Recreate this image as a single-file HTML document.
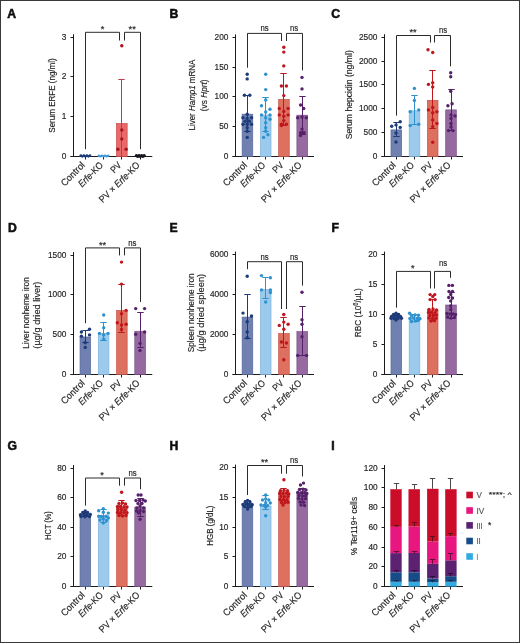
<!DOCTYPE html>
<html><head><meta charset="utf-8"><style>
html,body{margin:0;padding:0;background:#fff;}
body{width:520px;height:643px;overflow:hidden;}
svg{display:block;font-family:"Liberation Sans", sans-serif;}
text{stroke:#222;stroke-width:0.16px;}
</style></head><body>
<svg width="520" height="643" viewBox="0 0 520 643">
<rect x="0" y="0" width="520" height="643" fill="#fff"/>
<defs><filter id="sf" x="0" y="0" width="100%" height="100%" filterUnits="userSpaceOnUse"><feGaussianBlur stdDeviation="0.3"/></filter></defs>
<rect x="0.5" y="0.5" width="519" height="642" fill="none" stroke="#3a3a3a" stroke-width="1"/>
<g filter="url(#sf)">
<text x="7.2" y="17.5" font-size="12.2" font-weight="bold" fill="#111" style="stroke:#111;stroke-width:0.55px">A</text>
<text x="169.4" y="17.6" font-size="12.2" font-weight="bold" fill="#111" style="stroke:#111;stroke-width:0.55px">B</text>
<text x="331.2" y="17.9" font-size="12.2" font-weight="bold" fill="#111" style="stroke:#111;stroke-width:0.55px">C</text>
<text x="8" y="231.9" font-size="12.2" font-weight="bold" fill="#111" style="stroke:#111;stroke-width:0.55px">D</text>
<text x="169.6" y="231.9" font-size="12.2" font-weight="bold" fill="#111" style="stroke:#111;stroke-width:0.55px">E</text>
<text x="331.6" y="232" font-size="12.2" font-weight="bold" fill="#111" style="stroke:#111;stroke-width:0.55px">F</text>
<text x="7.5" y="450" font-size="12.2" font-weight="bold" fill="#111" style="stroke:#111;stroke-width:0.55px">G</text>
<text x="169.4" y="450" font-size="12.2" font-weight="bold" fill="#111" style="stroke:#111;stroke-width:0.55px">H</text>
<text x="331.2" y="450" font-size="12.2" font-weight="bold" fill="#111" style="stroke:#111;stroke-width:0.55px">I</text>
<line x1="73.5" y1="156.5" x2="73.5" y2="34.2" stroke="#1e1e1e" stroke-width="1.0"/>
<line x1="70.5" y1="156.5" x2="152.3" y2="156.5" stroke="#1e1e1e" stroke-width="1.0"/>
<line x1="70.5" y1="156.5" x2="73.5" y2="156.5" stroke="#1e1e1e" stroke-width="1.0"/>
<text x="66.4" y="159.4" font-size="8.3" text-anchor="end" fill="#1e1e1e">0</text>
<line x1="70.5" y1="116.5" x2="73.5" y2="116.5" stroke="#1e1e1e" stroke-width="1.0"/>
<text x="66.4" y="119.4" font-size="8.3" text-anchor="end" fill="#1e1e1e">1</text>
<line x1="70.5" y1="76.5" x2="73.5" y2="76.5" stroke="#1e1e1e" stroke-width="1.0"/>
<text x="66.4" y="79.4" font-size="8.3" text-anchor="end" fill="#1e1e1e">2</text>
<line x1="70.5" y1="37.5" x2="73.5" y2="37.5" stroke="#1e1e1e" stroke-width="1.0"/>
<text x="66.4" y="40.4" font-size="8.3" text-anchor="end" fill="#1e1e1e">3</text>
<line x1="85.5" y1="156.5" x2="85.5" y2="159.5" stroke="#1e1e1e" stroke-width="1.0"/>
<line x1="103.5" y1="156.5" x2="103.5" y2="159.5" stroke="#1e1e1e" stroke-width="1.0"/>
<line x1="121.5" y1="156.5" x2="121.5" y2="159.5" stroke="#1e1e1e" stroke-width="1.0"/>
<line x1="140.5" y1="156.5" x2="140.5" y2="159.5" stroke="#1e1e1e" stroke-width="1.0"/>
<text transform="translate(55.3,95.5) rotate(-90)" font-size="9.2" text-anchor="middle" fill="#1e1e1e" textLength="74.46" lengthAdjust="spacingAndGlyphs">Serum ERFE (ng/ml)</text>
<rect x="116.55" y="123.6" width="10.6" height="32.9" fill="#e96a6a" stroke="#c84848" stroke-width="0.7"/>
<line x1="121.5" y1="156.5" x2="121.5" y2="79.5" stroke="#b8404c" stroke-width="1.0"/>
<line x1="118.3" y1="79.5" x2="124.7" y2="79.5" stroke="#b8404c" stroke-width="1.0"/>
<circle cx="80.8" cy="155.7" r="1.35" fill="#1d3a78"/>
<circle cx="82.33" cy="156.3" r="1.35" fill="#1d3a78"/>
<circle cx="83.87" cy="155.7" r="1.35" fill="#1d3a78"/>
<circle cx="85.4" cy="156.3" r="1.35" fill="#1d3a78"/>
<circle cx="86.93" cy="155.7" r="1.35" fill="#1d3a78"/>
<circle cx="88.47" cy="156.3" r="1.35" fill="#1d3a78"/>
<circle cx="90" cy="155.7" r="1.35" fill="#1d3a78"/>
<circle cx="98.8" cy="155.7" r="1.3" fill="#4a9ad8"/>
<circle cx="100.37" cy="156.3" r="1.3" fill="#4a9ad8"/>
<circle cx="101.93" cy="155.7" r="1.3" fill="#4a9ad8"/>
<circle cx="103.5" cy="156.3" r="1.3" fill="#4a9ad8"/>
<circle cx="105.07" cy="155.7" r="1.3" fill="#4a9ad8"/>
<circle cx="106.63" cy="156.3" r="1.3" fill="#4a9ad8"/>
<circle cx="108.2" cy="155.7" r="1.3" fill="#4a9ad8"/>
<circle cx="136.4" cy="155.7" r="1.65" fill="#15151f"/>
<circle cx="137.7" cy="156.3" r="1.65" fill="#15151f"/>
<circle cx="139" cy="155.7" r="1.65" fill="#15151f"/>
<circle cx="140.3" cy="156.3" r="1.65" fill="#15151f"/>
<circle cx="141.6" cy="155.7" r="1.65" fill="#15151f"/>
<circle cx="142.9" cy="156.3" r="1.65" fill="#15151f"/>
<circle cx="144.2" cy="155.7" r="1.65" fill="#15151f"/>
<circle cx="121.8" cy="45.7" r="1.7" fill="#a8141c"/>
<circle cx="121.8" cy="130" r="1.7" fill="#a8141c"/>
<circle cx="121.8" cy="138.9" r="1.7" fill="#a8141c"/>
<circle cx="117.9" cy="149.2" r="1.7" fill="#a8141c"/>
<circle cx="126.1" cy="149.2" r="1.7" fill="#a8141c"/>
<polyline points="85.5,149.2 85.5,32.3 119.5,32.3 119.5,40.5" fill="none" stroke="#2a2a2a" stroke-width="1.0"/>
<text x="102.5" y="32.2" font-size="9.2" text-anchor="middle" fill="#1e1e1e">*</text>
<polyline points="124.5,40.5 124.5,32.3 140.5,32.3 140.5,149.2" fill="none" stroke="#2a2a2a" stroke-width="1.0"/>
<text x="132.2" y="32.2" font-size="9.2" text-anchor="middle" fill="#1e1e1e">**</text>
<text transform="translate(85.55,165.8) rotate(-45)" font-size="9.6" text-anchor="end" fill="#1e1e1e" textLength="29.5" lengthAdjust="spacingAndGlyphs">Control</text>
<text transform="translate(103.8,165.8) rotate(-45)" font-size="9.6" text-anchor="end" fill="#1e1e1e" textLength="31" lengthAdjust="spacingAndGlyphs"><tspan font-style="italic">Erfe</tspan>-KO</text>
<text transform="translate(122.05,165.8) rotate(-45)" font-size="9.6" text-anchor="end" fill="#1e1e1e" textLength="11.2" lengthAdjust="spacingAndGlyphs">PV</text>
<text transform="translate(140.3,165.8) rotate(-45)" font-size="9.6" text-anchor="end" fill="#1e1e1e" textLength="53" lengthAdjust="spacingAndGlyphs">PV × <tspan font-style="italic">Erfe</tspan>-KO</text>
<line x1="235.5" y1="156.5" x2="235.5" y2="34.4" stroke="#1e1e1e" stroke-width="1.0"/>
<line x1="232.5" y1="156.5" x2="314" y2="156.5" stroke="#1e1e1e" stroke-width="1.0"/>
<line x1="232.5" y1="156.5" x2="235.5" y2="156.5" stroke="#1e1e1e" stroke-width="1.0"/>
<text x="228.4" y="159.4" font-size="8.3" text-anchor="end" fill="#1e1e1e">0</text>
<line x1="232.5" y1="126.5" x2="235.5" y2="126.5" stroke="#1e1e1e" stroke-width="1.0"/>
<text x="228.4" y="129.4" font-size="8.3" text-anchor="end" fill="#1e1e1e">50</text>
<line x1="232.5" y1="96.5" x2="235.5" y2="96.5" stroke="#1e1e1e" stroke-width="1.0"/>
<text x="228.4" y="99.4" font-size="8.3" text-anchor="end" fill="#1e1e1e">100</text>
<line x1="232.5" y1="67.5" x2="235.5" y2="67.5" stroke="#1e1e1e" stroke-width="1.0"/>
<text x="228.4" y="70.4" font-size="8.3" text-anchor="end" fill="#1e1e1e">150</text>
<line x1="232.5" y1="37.5" x2="235.5" y2="37.5" stroke="#1e1e1e" stroke-width="1.0"/>
<text x="228.4" y="40.4" font-size="8.3" text-anchor="end" fill="#1e1e1e">200</text>
<line x1="247.5" y1="156.5" x2="247.5" y2="159.5" stroke="#1e1e1e" stroke-width="1.0"/>
<line x1="265.5" y1="156.5" x2="265.5" y2="159.5" stroke="#1e1e1e" stroke-width="1.0"/>
<line x1="283.5" y1="156.5" x2="283.5" y2="159.5" stroke="#1e1e1e" stroke-width="1.0"/>
<line x1="302.5" y1="156.5" x2="302.5" y2="159.5" stroke="#1e1e1e" stroke-width="1.0"/>
<text transform="translate(195.1,95.1) rotate(-90)" font-size="9.2" text-anchor="middle" fill="#1e1e1e" textLength="70.84" lengthAdjust="spacingAndGlyphs">Liver <tspan font-style="italic">Hamp1</tspan> mRNA</text>
<text transform="translate(207.2,95.3) rotate(-90)" font-size="9.2" text-anchor="middle" fill="#1e1e1e" textLength="31.67" lengthAdjust="spacingAndGlyphs">(vs <tspan font-style="italic">Hprt</tspan>)</text>
<rect x="242.15" y="114.2" width="10.6" height="42.3" fill="#6f81b1" stroke="#56689c" stroke-width="0.7"/>
<rect x="260.4" y="115" width="10.6" height="41.5" fill="#9bcaed" stroke="#7fb3dc" stroke-width="0.7"/>
<rect x="278.65" y="99.3" width="10.6" height="57.2" fill="#de6f5e" stroke="#c6564a" stroke-width="0.7"/>
<rect x="296.9" y="115.2" width="10.6" height="41.3" fill="#966aa1" stroke="#7c4f8c" stroke-width="0.7"/>
<line x1="247.5" y1="131.5" x2="247.5" y2="95.5" stroke="#1d3a78" stroke-width="1.0"/>
<line x1="244.3" y1="95.5" x2="250.7" y2="95.5" stroke="#1d3a78" stroke-width="1.0"/>
<line x1="244.3" y1="131.5" x2="250.7" y2="131.5" stroke="#1d3a78" stroke-width="1.0"/>
<line x1="265.5" y1="131.5" x2="265.5" y2="97.5" stroke="#2d92cf" stroke-width="1.0"/>
<line x1="262.3" y1="97.5" x2="268.7" y2="97.5" stroke="#2d92cf" stroke-width="1.0"/>
<line x1="262.3" y1="131.5" x2="268.7" y2="131.5" stroke="#2d92cf" stroke-width="1.0"/>
<line x1="283.5" y1="125.5" x2="283.5" y2="73.5" stroke="#c0141e" stroke-width="1.0"/>
<line x1="280.3" y1="73.5" x2="286.7" y2="73.5" stroke="#c0141e" stroke-width="1.0"/>
<line x1="280.3" y1="125.5" x2="286.7" y2="125.5" stroke="#c0141e" stroke-width="1.0"/>
<line x1="302.5" y1="134.5" x2="302.5" y2="96.5" stroke="#55206a" stroke-width="1.0"/>
<line x1="299.3" y1="96.5" x2="305.7" y2="96.5" stroke="#55206a" stroke-width="1.0"/>
<line x1="299.3" y1="134.5" x2="305.7" y2="134.5" stroke="#55206a" stroke-width="1.0"/>
<circle cx="247.2" cy="74.2" r="1.7" fill="#1d3a78"/>
<circle cx="247.2" cy="78.9" r="1.7" fill="#1d3a78"/>
<circle cx="244.4" cy="95.3" r="1.7" fill="#1d3a78"/>
<circle cx="249.8" cy="95.3" r="1.7" fill="#1d3a78"/>
<circle cx="247.2" cy="114.2" r="1.7" fill="#1d3a78"/>
<circle cx="243" cy="117.8" r="1.7" fill="#1d3a78"/>
<circle cx="247.2" cy="118.5" r="1.7" fill="#1d3a78"/>
<circle cx="251.5" cy="117.8" r="1.7" fill="#1d3a78"/>
<circle cx="245.1" cy="121.3" r="1.7" fill="#1d3a78"/>
<circle cx="249.4" cy="121.3" r="1.7" fill="#1d3a78"/>
<circle cx="243" cy="124.2" r="1.7" fill="#1d3a78"/>
<circle cx="247.2" cy="124.2" r="1.7" fill="#1d3a78"/>
<circle cx="251.5" cy="124.2" r="1.7" fill="#1d3a78"/>
<circle cx="247.2" cy="127.7" r="1.7" fill="#1d3a78"/>
<circle cx="247.2" cy="131.3" r="1.7" fill="#1d3a78"/>
<circle cx="247.2" cy="137.4" r="1.7" fill="#1d3a78"/>
<circle cx="265.7" cy="74.2" r="1.7" fill="#2d92cf"/>
<circle cx="265.7" cy="89.6" r="1.7" fill="#2d92cf"/>
<circle cx="265.7" cy="100" r="1.7" fill="#2d92cf"/>
<circle cx="261.5" cy="105.7" r="1.7" fill="#2d92cf"/>
<circle cx="270" cy="109.2" r="1.7" fill="#2d92cf"/>
<circle cx="265.7" cy="112" r="1.7" fill="#2d92cf"/>
<circle cx="261.5" cy="114.9" r="1.7" fill="#2d92cf"/>
<circle cx="270" cy="114.9" r="1.7" fill="#2d92cf"/>
<circle cx="265.7" cy="117.8" r="1.7" fill="#2d92cf"/>
<circle cx="270" cy="119.2" r="1.7" fill="#2d92cf"/>
<circle cx="265.7" cy="122.7" r="1.7" fill="#2d92cf"/>
<circle cx="265.7" cy="127.7" r="1.7" fill="#2d92cf"/>
<circle cx="265.7" cy="131.3" r="1.7" fill="#2d92cf"/>
<circle cx="267.9" cy="134.8" r="1.7" fill="#2d92cf"/>
<circle cx="263.6" cy="137.4" r="1.7" fill="#2d92cf"/>
<circle cx="283.8" cy="47.3" r="1.7" fill="#c0141e"/>
<circle cx="283.8" cy="52.1" r="1.7" fill="#c0141e"/>
<circle cx="283.8" cy="65.9" r="1.7" fill="#c0141e"/>
<circle cx="281.4" cy="86" r="1.7" fill="#c0141e"/>
<circle cx="286.4" cy="86" r="1.7" fill="#c0141e"/>
<circle cx="283.8" cy="95.6" r="1.7" fill="#c0141e"/>
<circle cx="279.3" cy="108.5" r="1.7" fill="#c0141e"/>
<circle cx="288.1" cy="108.5" r="1.7" fill="#c0141e"/>
<circle cx="283.8" cy="111.4" r="1.7" fill="#c0141e"/>
<circle cx="279.3" cy="114.9" r="1.7" fill="#c0141e"/>
<circle cx="288.1" cy="114.9" r="1.7" fill="#c0141e"/>
<circle cx="283.8" cy="116.3" r="1.7" fill="#c0141e"/>
<circle cx="283.8" cy="120.6" r="1.7" fill="#c0141e"/>
<circle cx="281.4" cy="124.2" r="1.7" fill="#c0141e"/>
<circle cx="286.4" cy="124.2" r="1.7" fill="#c0141e"/>
<circle cx="281.4" cy="125.6" r="1.7" fill="#c0141e"/>
<circle cx="302" cy="77.4" r="1.7" fill="#55206a"/>
<circle cx="302" cy="88.9" r="1.7" fill="#55206a"/>
<circle cx="300.6" cy="105" r="1.7" fill="#55206a"/>
<circle cx="303.7" cy="108.5" r="1.7" fill="#55206a"/>
<circle cx="297.7" cy="117.8" r="1.7" fill="#55206a"/>
<circle cx="302" cy="117" r="1.7" fill="#55206a"/>
<circle cx="306.3" cy="117.8" r="1.7" fill="#55206a"/>
<circle cx="302" cy="129.1" r="1.7" fill="#55206a"/>
<circle cx="300.6" cy="132.7" r="1.7" fill="#55206a"/>
<circle cx="304.1" cy="132.7" r="1.7" fill="#55206a"/>
<circle cx="300.6" cy="135.5" r="1.7" fill="#55206a"/>
<polyline points="247.5,67.7 247.5,33.4 281.5,33.4 281.5,41" fill="none" stroke="#2a2a2a" stroke-width="1.0"/>
<text x="264.5" y="31.3" font-size="8.4" text-anchor="middle" textLength="8.2" lengthAdjust="spacingAndGlyphs" fill="#1e1e1e">ns</text>
<polyline points="286.5,41 286.5,33.4 302.5,33.4 302.5,70.4" fill="none" stroke="#2a2a2a" stroke-width="1.0"/>
<text x="294" y="31.3" font-size="8.4" text-anchor="middle" textLength="8.2" lengthAdjust="spacingAndGlyphs" fill="#1e1e1e">ns</text>
<text transform="translate(247.65,165.8) rotate(-45)" font-size="9.6" text-anchor="end" fill="#1e1e1e" textLength="29.5" lengthAdjust="spacingAndGlyphs">Control</text>
<text transform="translate(265.9,165.8) rotate(-45)" font-size="9.6" text-anchor="end" fill="#1e1e1e" textLength="31" lengthAdjust="spacingAndGlyphs"><tspan font-style="italic">Erfe</tspan>-KO</text>
<text transform="translate(284.15,165.8) rotate(-45)" font-size="9.6" text-anchor="end" fill="#1e1e1e" textLength="11.2" lengthAdjust="spacingAndGlyphs">PV</text>
<text transform="translate(302.4,165.8) rotate(-45)" font-size="9.6" text-anchor="end" fill="#1e1e1e" textLength="53" lengthAdjust="spacingAndGlyphs">PV × <tspan font-style="italic">Erfe</tspan>-KO</text>
<line x1="384.5" y1="156.5" x2="384.5" y2="34.2" stroke="#1e1e1e" stroke-width="1.0"/>
<line x1="381.5" y1="156.5" x2="463" y2="156.5" stroke="#1e1e1e" stroke-width="1.0"/>
<line x1="381.5" y1="156.5" x2="384.5" y2="156.5" stroke="#1e1e1e" stroke-width="1.0"/>
<text x="377.4" y="159.4" font-size="8.3" text-anchor="end" fill="#1e1e1e">0</text>
<line x1="381.5" y1="132.5" x2="384.5" y2="132.5" stroke="#1e1e1e" stroke-width="1.0"/>
<text x="377.4" y="135.4" font-size="8.3" text-anchor="end" fill="#1e1e1e">500</text>
<line x1="381.5" y1="108.5" x2="384.5" y2="108.5" stroke="#1e1e1e" stroke-width="1.0"/>
<text x="377.4" y="111.4" font-size="8.3" text-anchor="end" fill="#1e1e1e">1000</text>
<line x1="381.5" y1="84.5" x2="384.5" y2="84.5" stroke="#1e1e1e" stroke-width="1.0"/>
<text x="377.4" y="87.4" font-size="8.3" text-anchor="end" fill="#1e1e1e">1500</text>
<line x1="381.5" y1="61.5" x2="384.5" y2="61.5" stroke="#1e1e1e" stroke-width="1.0"/>
<text x="377.4" y="64.4" font-size="8.3" text-anchor="end" fill="#1e1e1e">2000</text>
<line x1="381.5" y1="37.5" x2="384.5" y2="37.5" stroke="#1e1e1e" stroke-width="1.0"/>
<text x="377.4" y="40.4" font-size="8.3" text-anchor="end" fill="#1e1e1e">2500</text>
<line x1="396.5" y1="156.5" x2="396.5" y2="159.5" stroke="#1e1e1e" stroke-width="1.0"/>
<line x1="414.5" y1="156.5" x2="414.5" y2="159.5" stroke="#1e1e1e" stroke-width="1.0"/>
<line x1="432.5" y1="156.5" x2="432.5" y2="159.5" stroke="#1e1e1e" stroke-width="1.0"/>
<line x1="451.5" y1="156.5" x2="451.5" y2="159.5" stroke="#1e1e1e" stroke-width="1.0"/>
<text transform="translate(351.5,94.8) rotate(-90)" font-size="9.2" text-anchor="middle" fill="#1e1e1e" textLength="89.14" lengthAdjust="spacingAndGlyphs">Serum hepcidin (ng/ml)</text>
<rect x="391" y="129.9" width="10.6" height="26.6" fill="#6f81b1" stroke="#56689c" stroke-width="0.7"/>
<rect x="409.2" y="110.8" width="10.6" height="45.7" fill="#9bcaed" stroke="#7fb3dc" stroke-width="0.7"/>
<rect x="427.4" y="100.4" width="10.6" height="56.1" fill="#de6f5e" stroke="#c6564a" stroke-width="0.7"/>
<rect x="445.7" y="109.9" width="10.6" height="46.6" fill="#966aa1" stroke="#7c4f8c" stroke-width="0.7"/>
<line x1="396.5" y1="136.5" x2="396.5" y2="122.5" stroke="#1d3a78" stroke-width="1.0"/>
<line x1="393.3" y1="122.5" x2="399.7" y2="122.5" stroke="#1d3a78" stroke-width="1.0"/>
<line x1="393.3" y1="136.5" x2="399.7" y2="136.5" stroke="#1d3a78" stroke-width="1.0"/>
<line x1="414.5" y1="124.5" x2="414.5" y2="95.5" stroke="#2d92cf" stroke-width="1.0"/>
<line x1="411.3" y1="95.5" x2="417.7" y2="95.5" stroke="#2d92cf" stroke-width="1.0"/>
<line x1="411.3" y1="124.5" x2="417.7" y2="124.5" stroke="#2d92cf" stroke-width="1.0"/>
<line x1="432.5" y1="128.5" x2="432.5" y2="70.5" stroke="#c0141e" stroke-width="1.0"/>
<line x1="429.3" y1="70.5" x2="435.7" y2="70.5" stroke="#c0141e" stroke-width="1.0"/>
<line x1="429.3" y1="128.5" x2="435.7" y2="128.5" stroke="#c0141e" stroke-width="1.0"/>
<line x1="451.5" y1="130.5" x2="451.5" y2="89.5" stroke="#55206a" stroke-width="1.0"/>
<line x1="448.3" y1="89.5" x2="454.7" y2="89.5" stroke="#55206a" stroke-width="1.0"/>
<line x1="448.3" y1="130.5" x2="454.7" y2="130.5" stroke="#55206a" stroke-width="1.0"/>
<circle cx="400.2" cy="121.7" r="1.7" fill="#1d3a78"/>
<circle cx="396" cy="124.9" r="1.7" fill="#1d3a78"/>
<circle cx="391.7" cy="126.3" r="1.7" fill="#1d3a78"/>
<circle cx="400.2" cy="127.4" r="1.7" fill="#1d3a78"/>
<circle cx="396" cy="133.1" r="1.7" fill="#1d3a78"/>
<circle cx="396" cy="142" r="1.7" fill="#1d3a78"/>
<circle cx="414.4" cy="88.4" r="1.7" fill="#2d92cf"/>
<circle cx="414.4" cy="100.4" r="1.7" fill="#2d92cf"/>
<circle cx="418.7" cy="109.9" r="1.7" fill="#2d92cf"/>
<circle cx="410.2" cy="111.8" r="1.7" fill="#2d92cf"/>
<circle cx="418.7" cy="124.2" r="1.7" fill="#2d92cf"/>
<circle cx="410.2" cy="125.6" r="1.7" fill="#2d92cf"/>
<circle cx="428" cy="49.7" r="1.7" fill="#c0141e"/>
<circle cx="432.7" cy="52.5" r="1.7" fill="#c0141e"/>
<circle cx="432.7" cy="82.7" r="1.7" fill="#c0141e"/>
<circle cx="428.4" cy="84.4" r="1.7" fill="#c0141e"/>
<circle cx="432.7" cy="87" r="1.7" fill="#c0141e"/>
<circle cx="432.7" cy="107.5" r="1.7" fill="#c0141e"/>
<circle cx="428.4" cy="109.9" r="1.7" fill="#c0141e"/>
<circle cx="436.9" cy="111.8" r="1.7" fill="#c0141e"/>
<circle cx="432.7" cy="112.8" r="1.7" fill="#c0141e"/>
<circle cx="432.7" cy="119.9" r="1.7" fill="#c0141e"/>
<circle cx="436.9" cy="123.5" r="1.7" fill="#c0141e"/>
<circle cx="432.7" cy="126.6" r="1.7" fill="#c0141e"/>
<circle cx="432.7" cy="142.2" r="1.7" fill="#c0141e"/>
<circle cx="450.7" cy="72.7" r="1.7" fill="#55206a"/>
<circle cx="450.7" cy="76.7" r="1.7" fill="#55206a"/>
<circle cx="450.7" cy="91.2" r="1.7" fill="#55206a"/>
<circle cx="452.1" cy="103.8" r="1.7" fill="#55206a"/>
<circle cx="447.9" cy="105.7" r="1.7" fill="#55206a"/>
<circle cx="451" cy="114.9" r="1.7" fill="#55206a"/>
<circle cx="455" cy="116" r="1.7" fill="#55206a"/>
<circle cx="451" cy="118.5" r="1.7" fill="#55206a"/>
<circle cx="451" cy="123.5" r="1.7" fill="#55206a"/>
<circle cx="451" cy="127" r="1.7" fill="#55206a"/>
<circle cx="448.6" cy="130.6" r="1.7" fill="#55206a"/>
<circle cx="452.9" cy="130.6" r="1.7" fill="#55206a"/>
<polyline points="396.5,115.6 396.5,35.5 430.5,35.5 430.5,42.5" fill="none" stroke="#2a2a2a" stroke-width="1.0"/>
<text x="413" y="35.4" font-size="9.2" text-anchor="middle" fill="#1e1e1e">**</text>
<polyline points="434.5,42.5 434.5,35.5 450.5,35.5 450.5,66.3" fill="none" stroke="#2a2a2a" stroke-width="1.0"/>
<text x="443" y="33.4" font-size="8.4" text-anchor="middle" textLength="8.2" lengthAdjust="spacingAndGlyphs" fill="#1e1e1e">ns</text>
<text transform="translate(396.5,165.8) rotate(-45)" font-size="9.6" text-anchor="end" fill="#1e1e1e" textLength="29.5" lengthAdjust="spacingAndGlyphs">Control</text>
<text transform="translate(414.7,165.8) rotate(-45)" font-size="9.6" text-anchor="end" fill="#1e1e1e" textLength="31" lengthAdjust="spacingAndGlyphs"><tspan font-style="italic">Erfe</tspan>-KO</text>
<text transform="translate(432.9,165.8) rotate(-45)" font-size="9.6" text-anchor="end" fill="#1e1e1e" textLength="11.2" lengthAdjust="spacingAndGlyphs">PV</text>
<text transform="translate(451.2,165.8) rotate(-45)" font-size="9.6" text-anchor="end" fill="#1e1e1e" textLength="53" lengthAdjust="spacingAndGlyphs">PV × <tspan font-style="italic">Erfe</tspan>-KO</text>
<line x1="73.5" y1="374.5" x2="73.5" y2="252" stroke="#1e1e1e" stroke-width="1.0"/>
<line x1="70.5" y1="374.5" x2="152.3" y2="374.5" stroke="#1e1e1e" stroke-width="1.0"/>
<line x1="70.5" y1="374.5" x2="73.5" y2="374.5" stroke="#1e1e1e" stroke-width="1.0"/>
<text x="66.4" y="377.4" font-size="8.3" text-anchor="end" fill="#1e1e1e">0</text>
<line x1="70.5" y1="334.5" x2="73.5" y2="334.5" stroke="#1e1e1e" stroke-width="1.0"/>
<text x="66.4" y="337.4" font-size="8.3" text-anchor="end" fill="#1e1e1e">500</text>
<line x1="70.5" y1="294.5" x2="73.5" y2="294.5" stroke="#1e1e1e" stroke-width="1.0"/>
<text x="66.4" y="297.4" font-size="8.3" text-anchor="end" fill="#1e1e1e">1000</text>
<line x1="70.5" y1="255.5" x2="73.5" y2="255.5" stroke="#1e1e1e" stroke-width="1.0"/>
<text x="66.4" y="258.4" font-size="8.3" text-anchor="end" fill="#1e1e1e">1500</text>
<line x1="85.5" y1="374.5" x2="85.5" y2="377.5" stroke="#1e1e1e" stroke-width="1.0"/>
<line x1="103.5" y1="374.5" x2="103.5" y2="377.5" stroke="#1e1e1e" stroke-width="1.0"/>
<line x1="121.5" y1="374.5" x2="121.5" y2="377.5" stroke="#1e1e1e" stroke-width="1.0"/>
<line x1="140.5" y1="374.5" x2="140.5" y2="377.5" stroke="#1e1e1e" stroke-width="1.0"/>
<text transform="translate(29.3,312.9) rotate(-90)" font-size="9.2" text-anchor="middle" fill="#1e1e1e" textLength="71.47" lengthAdjust="spacingAndGlyphs">Liver nonheme iron</text>
<text transform="translate(40.3,315.2) rotate(-90)" font-size="9.2" text-anchor="middle" fill="#1e1e1e" textLength="67.03" lengthAdjust="spacingAndGlyphs">(µg/g dried liver)</text>
<rect x="80.05" y="337" width="10.6" height="37.5" fill="#6f81b1" stroke="#56689c" stroke-width="0.7"/>
<rect x="98.3" y="333.4" width="10.6" height="41.1" fill="#9bcaed" stroke="#7fb3dc" stroke-width="0.7"/>
<rect x="116.55" y="310.4" width="10.6" height="64.1" fill="#de6f5e" stroke="#c6564a" stroke-width="0.7"/>
<rect x="134.8" y="331.3" width="10.6" height="43.2" fill="#966aa1" stroke="#7c4f8c" stroke-width="0.7"/>
<line x1="85.5" y1="342.5" x2="85.5" y2="330.5" stroke="#1d3a78" stroke-width="1.0"/>
<line x1="82.3" y1="330.5" x2="88.7" y2="330.5" stroke="#1d3a78" stroke-width="1.0"/>
<line x1="82.3" y1="342.5" x2="88.7" y2="342.5" stroke="#1d3a78" stroke-width="1.0"/>
<line x1="103.5" y1="340.5" x2="103.5" y2="322.5" stroke="#2d92cf" stroke-width="1.0"/>
<line x1="100.3" y1="322.5" x2="106.7" y2="322.5" stroke="#2d92cf" stroke-width="1.0"/>
<line x1="100.3" y1="340.5" x2="106.7" y2="340.5" stroke="#2d92cf" stroke-width="1.0"/>
<line x1="121.5" y1="332.5" x2="121.5" y2="284.5" stroke="#c0141e" stroke-width="1.0"/>
<line x1="118.3" y1="284.5" x2="124.7" y2="284.5" stroke="#c0141e" stroke-width="1.0"/>
<line x1="118.3" y1="332.5" x2="124.7" y2="332.5" stroke="#c0141e" stroke-width="1.0"/>
<line x1="140.5" y1="347.5" x2="140.5" y2="312.5" stroke="#55206a" stroke-width="1.0"/>
<line x1="137.3" y1="312.5" x2="143.7" y2="312.5" stroke="#55206a" stroke-width="1.0"/>
<line x1="137.3" y1="347.5" x2="143.7" y2="347.5" stroke="#55206a" stroke-width="1.0"/>
<circle cx="89.5" cy="329.2" r="1.7" fill="#1d3a78"/>
<circle cx="81.4" cy="332" r="1.7" fill="#1d3a78"/>
<circle cx="89.5" cy="334.9" r="1.7" fill="#1d3a78"/>
<circle cx="81.4" cy="336.3" r="1.7" fill="#1d3a78"/>
<circle cx="85.2" cy="342.7" r="1.7" fill="#1d3a78"/>
<circle cx="85.2" cy="347.4" r="1.7" fill="#1d3a78"/>
<circle cx="103.7" cy="315" r="1.7" fill="#2d92cf"/>
<circle cx="103.7" cy="327.8" r="1.7" fill="#2d92cf"/>
<circle cx="99.5" cy="333.4" r="1.7" fill="#2d92cf"/>
<circle cx="108" cy="333.4" r="1.7" fill="#2d92cf"/>
<circle cx="103.7" cy="334.9" r="1.7" fill="#2d92cf"/>
<circle cx="103.7" cy="339.1" r="1.7" fill="#2d92cf"/>
<circle cx="121.5" cy="262.1" r="1.7" fill="#c0141e"/>
<circle cx="121.5" cy="284.1" r="1.7" fill="#c0141e"/>
<circle cx="126.1" cy="310.4" r="1.7" fill="#c0141e"/>
<circle cx="121.5" cy="313.8" r="1.7" fill="#c0141e"/>
<circle cx="117.3" cy="322.8" r="1.7" fill="#c0141e"/>
<circle cx="126.1" cy="324.2" r="1.7" fill="#c0141e"/>
<circle cx="121.5" cy="324.9" r="1.7" fill="#c0141e"/>
<circle cx="121.5" cy="329.5" r="1.7" fill="#c0141e"/>
<circle cx="135.7" cy="308.6" r="1.7" fill="#55206a"/>
<circle cx="144.6" cy="308.6" r="1.7" fill="#55206a"/>
<circle cx="144.6" cy="332" r="1.7" fill="#55206a"/>
<circle cx="135.7" cy="334.2" r="1.7" fill="#55206a"/>
<circle cx="140" cy="343.4" r="1.7" fill="#55206a"/>
<circle cx="140" cy="350.5" r="1.7" fill="#55206a"/>
<polyline points="85.5,323.2 85.5,247.9 119.5,247.9 119.5,255.4" fill="none" stroke="#2a2a2a" stroke-width="1.0"/>
<text x="102.5" y="247.8" font-size="9.2" text-anchor="middle" fill="#1e1e1e">**</text>
<polyline points="124.5,255.4 124.5,247.9 140.5,247.9 140.5,302" fill="none" stroke="#2a2a2a" stroke-width="1.0"/>
<text x="132.3" y="245.8" font-size="8.4" text-anchor="middle" textLength="8.2" lengthAdjust="spacingAndGlyphs" fill="#1e1e1e">ns</text>
<text transform="translate(85.55,383.8) rotate(-45)" font-size="9.6" text-anchor="end" fill="#1e1e1e" textLength="29.5" lengthAdjust="spacingAndGlyphs">Control</text>
<text transform="translate(103.8,383.8) rotate(-45)" font-size="9.6" text-anchor="end" fill="#1e1e1e" textLength="31" lengthAdjust="spacingAndGlyphs"><tspan font-style="italic">Erfe</tspan>-KO</text>
<text transform="translate(122.05,383.8) rotate(-45)" font-size="9.6" text-anchor="end" fill="#1e1e1e" textLength="11.2" lengthAdjust="spacingAndGlyphs">PV</text>
<text transform="translate(140.3,383.8) rotate(-45)" font-size="9.6" text-anchor="end" fill="#1e1e1e" textLength="53" lengthAdjust="spacingAndGlyphs">PV × <tspan font-style="italic">Erfe</tspan>-KO</text>
<line x1="235.5" y1="374.5" x2="235.5" y2="251.6" stroke="#1e1e1e" stroke-width="1.0"/>
<line x1="232.5" y1="374.5" x2="314" y2="374.5" stroke="#1e1e1e" stroke-width="1.0"/>
<line x1="232.5" y1="374.5" x2="235.5" y2="374.5" stroke="#1e1e1e" stroke-width="1.0"/>
<text x="228.4" y="377.4" font-size="8.3" text-anchor="end" fill="#1e1e1e">0</text>
<line x1="232.5" y1="334.5" x2="235.5" y2="334.5" stroke="#1e1e1e" stroke-width="1.0"/>
<text x="228.4" y="337.4" font-size="8.3" text-anchor="end" fill="#1e1e1e">2000</text>
<line x1="232.5" y1="294.5" x2="235.5" y2="294.5" stroke="#1e1e1e" stroke-width="1.0"/>
<text x="228.4" y="297.4" font-size="8.3" text-anchor="end" fill="#1e1e1e">4000</text>
<line x1="232.5" y1="254.5" x2="235.5" y2="254.5" stroke="#1e1e1e" stroke-width="1.0"/>
<text x="228.4" y="257.4" font-size="8.3" text-anchor="end" fill="#1e1e1e">6000</text>
<line x1="247.5" y1="374.5" x2="247.5" y2="377.5" stroke="#1e1e1e" stroke-width="1.0"/>
<line x1="265.5" y1="374.5" x2="265.5" y2="377.5" stroke="#1e1e1e" stroke-width="1.0"/>
<line x1="283.5" y1="374.5" x2="283.5" y2="377.5" stroke="#1e1e1e" stroke-width="1.0"/>
<line x1="302.5" y1="374.5" x2="302.5" y2="377.5" stroke="#1e1e1e" stroke-width="1.0"/>
<text transform="translate(194.2,312.8) rotate(-90)" font-size="9.2" text-anchor="middle" fill="#1e1e1e" textLength="79.02" lengthAdjust="spacingAndGlyphs">Spleen nonheme iron</text>
<text transform="translate(203.6,312.8) rotate(-90)" font-size="9.2" text-anchor="middle" fill="#1e1e1e" textLength="78.03" lengthAdjust="spacingAndGlyphs">(µg/g dried spleen)</text>
<rect x="242.15" y="317.1" width="10.6" height="57.4" fill="#6f81b1" stroke="#56689c" stroke-width="0.7"/>
<rect x="260.4" y="289.5" width="10.6" height="85" fill="#9bcaed" stroke="#7fb3dc" stroke-width="0.7"/>
<rect x="278.65" y="333.5" width="10.6" height="41" fill="#de6f5e" stroke="#c6564a" stroke-width="0.7"/>
<rect x="296.9" y="331.6" width="10.6" height="42.9" fill="#966aa1" stroke="#7c4f8c" stroke-width="0.7"/>
<line x1="247.5" y1="338.5" x2="247.5" y2="294.5" stroke="#1d3a78" stroke-width="1.0"/>
<line x1="244.3" y1="294.5" x2="250.7" y2="294.5" stroke="#1d3a78" stroke-width="1.0"/>
<line x1="244.3" y1="338.5" x2="250.7" y2="338.5" stroke="#1d3a78" stroke-width="1.0"/>
<line x1="265.5" y1="298.5" x2="265.5" y2="277.5" stroke="#2d92cf" stroke-width="1.0"/>
<line x1="262.3" y1="277.5" x2="268.7" y2="277.5" stroke="#2d92cf" stroke-width="1.0"/>
<line x1="262.3" y1="298.5" x2="268.7" y2="298.5" stroke="#2d92cf" stroke-width="1.0"/>
<line x1="283.5" y1="347.5" x2="283.5" y2="317.5" stroke="#c0141e" stroke-width="1.0"/>
<line x1="280.3" y1="317.5" x2="286.7" y2="317.5" stroke="#c0141e" stroke-width="1.0"/>
<line x1="280.3" y1="347.5" x2="286.7" y2="347.5" stroke="#c0141e" stroke-width="1.0"/>
<line x1="302.5" y1="355.5" x2="302.5" y2="306.5" stroke="#55206a" stroke-width="1.0"/>
<line x1="299.3" y1="306.5" x2="305.7" y2="306.5" stroke="#55206a" stroke-width="1.0"/>
<line x1="299.3" y1="355.5" x2="305.7" y2="355.5" stroke="#55206a" stroke-width="1.0"/>
<circle cx="247.2" cy="276.3" r="1.7" fill="#1d3a78"/>
<circle cx="243" cy="313.1" r="1.7" fill="#1d3a78"/>
<circle cx="251.5" cy="316" r="1.7" fill="#1d3a78"/>
<circle cx="247.2" cy="321.7" r="1.7" fill="#1d3a78"/>
<circle cx="247.2" cy="332" r="1.7" fill="#1d3a78"/>
<circle cx="247.2" cy="337.7" r="1.7" fill="#1d3a78"/>
<circle cx="261.5" cy="275.6" r="1.7" fill="#2d92cf"/>
<circle cx="270.4" cy="277.8" r="1.7" fill="#2d92cf"/>
<circle cx="261.5" cy="289.9" r="1.7" fill="#2d92cf"/>
<circle cx="270.4" cy="289.9" r="1.7" fill="#2d92cf"/>
<circle cx="270.4" cy="292.5" r="1.7" fill="#2d92cf"/>
<circle cx="265.7" cy="302" r="1.7" fill="#2d92cf"/>
<circle cx="283.8" cy="314.5" r="1.7" fill="#c0141e"/>
<circle cx="283.8" cy="322.1" r="1.7" fill="#c0141e"/>
<circle cx="279.3" cy="325.4" r="1.7" fill="#c0141e"/>
<circle cx="288.1" cy="324.2" r="1.7" fill="#c0141e"/>
<circle cx="283.8" cy="329.2" r="1.7" fill="#c0141e"/>
<circle cx="281.4" cy="342" r="1.7" fill="#c0141e"/>
<circle cx="286.4" cy="343" r="1.7" fill="#c0141e"/>
<circle cx="283.8" cy="359.8" r="1.7" fill="#c0141e"/>
<circle cx="302" cy="292.3" r="1.7" fill="#55206a"/>
<circle cx="302" cy="319.7" r="1.7" fill="#55206a"/>
<circle cx="302" cy="324.2" r="1.7" fill="#55206a"/>
<circle cx="302" cy="336.7" r="1.7" fill="#55206a"/>
<circle cx="297.7" cy="355.5" r="1.7" fill="#55206a"/>
<circle cx="306.6" cy="355.5" r="1.7" fill="#55206a"/>
<polyline points="247.5,269.2 247.5,261.7 281.5,261.7 281.5,309" fill="none" stroke="#2a2a2a" stroke-width="1.0"/>
<text x="264.5" y="259.6" font-size="8.4" text-anchor="middle" textLength="8.2" lengthAdjust="spacingAndGlyphs" fill="#1e1e1e">ns</text>
<polyline points="286.5,309 286.5,261.7 302.5,261.7 302.5,285.6" fill="none" stroke="#2a2a2a" stroke-width="1.0"/>
<text x="294" y="259.6" font-size="8.4" text-anchor="middle" textLength="8.2" lengthAdjust="spacingAndGlyphs" fill="#1e1e1e">ns</text>
<text transform="translate(247.65,383.8) rotate(-45)" font-size="9.6" text-anchor="end" fill="#1e1e1e" textLength="29.5" lengthAdjust="spacingAndGlyphs">Control</text>
<text transform="translate(265.9,383.8) rotate(-45)" font-size="9.6" text-anchor="end" fill="#1e1e1e" textLength="31" lengthAdjust="spacingAndGlyphs"><tspan font-style="italic">Erfe</tspan>-KO</text>
<text transform="translate(284.15,383.8) rotate(-45)" font-size="9.6" text-anchor="end" fill="#1e1e1e" textLength="11.2" lengthAdjust="spacingAndGlyphs">PV</text>
<text transform="translate(302.4,383.8) rotate(-45)" font-size="9.6" text-anchor="end" fill="#1e1e1e" textLength="53" lengthAdjust="spacingAndGlyphs">PV × <tspan font-style="italic">Erfe</tspan>-KO</text>
<line x1="384.5" y1="374.5" x2="384.5" y2="251.6" stroke="#1e1e1e" stroke-width="1.0"/>
<line x1="381.5" y1="374.5" x2="463" y2="374.5" stroke="#1e1e1e" stroke-width="1.0"/>
<line x1="381.5" y1="374.5" x2="384.5" y2="374.5" stroke="#1e1e1e" stroke-width="1.0"/>
<text x="377.4" y="377.4" font-size="8.3" text-anchor="end" fill="#1e1e1e">0</text>
<line x1="381.5" y1="344.5" x2="384.5" y2="344.5" stroke="#1e1e1e" stroke-width="1.0"/>
<text x="377.4" y="347.4" font-size="8.3" text-anchor="end" fill="#1e1e1e">5</text>
<line x1="381.5" y1="314.5" x2="384.5" y2="314.5" stroke="#1e1e1e" stroke-width="1.0"/>
<text x="377.4" y="317.4" font-size="8.3" text-anchor="end" fill="#1e1e1e">10</text>
<line x1="381.5" y1="284.5" x2="384.5" y2="284.5" stroke="#1e1e1e" stroke-width="1.0"/>
<text x="377.4" y="287.4" font-size="8.3" text-anchor="end" fill="#1e1e1e">15</text>
<line x1="381.5" y1="254.5" x2="384.5" y2="254.5" stroke="#1e1e1e" stroke-width="1.0"/>
<text x="377.4" y="257.4" font-size="8.3" text-anchor="end" fill="#1e1e1e">20</text>
<line x1="396.5" y1="374.5" x2="396.5" y2="377.5" stroke="#1e1e1e" stroke-width="1.0"/>
<line x1="414.5" y1="374.5" x2="414.5" y2="377.5" stroke="#1e1e1e" stroke-width="1.0"/>
<line x1="432.5" y1="374.5" x2="432.5" y2="377.5" stroke="#1e1e1e" stroke-width="1.0"/>
<line x1="451.5" y1="374.5" x2="451.5" y2="377.5" stroke="#1e1e1e" stroke-width="1.0"/>
<text transform="translate(361.3,312.7) rotate(-90)" font-size="9.2" text-anchor="middle" fill="#1e1e1e" textLength="49.03" lengthAdjust="spacingAndGlyphs">RBC (10<tspan font-size="6.5" dy="-3.5">6</tspan><tspan dy="3.5">/µL)</tspan></text>
<rect x="391" y="316.2" width="10.6" height="58.3" fill="#6f81b1" stroke="#56689c" stroke-width="0.7"/>
<rect x="409.2" y="317.5" width="10.6" height="57" fill="#9bcaed" stroke="#7fb3dc" stroke-width="0.7"/>
<rect x="427.4" y="310" width="10.6" height="64.5" fill="#de6f5e" stroke="#c6564a" stroke-width="0.7"/>
<rect x="445.7" y="305" width="10.6" height="69.5" fill="#966aa1" stroke="#7c4f8c" stroke-width="0.7"/>
<line x1="396.5" y1="318.5" x2="396.5" y2="313.5" stroke="#1d3a78" stroke-width="1.0"/>
<line x1="393.3" y1="313.5" x2="399.7" y2="313.5" stroke="#1d3a78" stroke-width="1.0"/>
<line x1="393.3" y1="318.5" x2="399.7" y2="318.5" stroke="#1d3a78" stroke-width="1.0"/>
<line x1="414.5" y1="321.5" x2="414.5" y2="314.5" stroke="#2d92cf" stroke-width="1.0"/>
<line x1="411.3" y1="314.5" x2="417.7" y2="314.5" stroke="#2d92cf" stroke-width="1.0"/>
<line x1="411.3" y1="321.5" x2="417.7" y2="321.5" stroke="#2d92cf" stroke-width="1.0"/>
<line x1="432.5" y1="320.5" x2="432.5" y2="299.5" stroke="#c0141e" stroke-width="1.0"/>
<line x1="429.3" y1="299.5" x2="435.7" y2="299.5" stroke="#c0141e" stroke-width="1.0"/>
<line x1="429.3" y1="320.5" x2="435.7" y2="320.5" stroke="#c0141e" stroke-width="1.0"/>
<line x1="451.5" y1="318.5" x2="451.5" y2="292.5" stroke="#55206a" stroke-width="1.0"/>
<line x1="448.3" y1="292.5" x2="454.7" y2="292.5" stroke="#55206a" stroke-width="1.0"/>
<line x1="448.3" y1="318.5" x2="454.7" y2="318.5" stroke="#55206a" stroke-width="1.0"/>
<circle cx="396" cy="313.2" r="1.7" fill="#1d3a78"/>
<circle cx="393.5" cy="314.5" r="1.7" fill="#1d3a78"/>
<circle cx="398.5" cy="314.5" r="1.7" fill="#1d3a78"/>
<circle cx="391.5" cy="316.5" r="1.7" fill="#1d3a78"/>
<circle cx="395" cy="316" r="1.7" fill="#1d3a78"/>
<circle cx="397.5" cy="316.3" r="1.7" fill="#1d3a78"/>
<circle cx="400.5" cy="316.5" r="1.7" fill="#1d3a78"/>
<circle cx="391" cy="318.2" r="1.7" fill="#1d3a78"/>
<circle cx="394" cy="318.5" r="1.7" fill="#1d3a78"/>
<circle cx="398" cy="318.5" r="1.7" fill="#1d3a78"/>
<circle cx="401.5" cy="318.2" r="1.7" fill="#1d3a78"/>
<circle cx="396" cy="320" r="1.7" fill="#1d3a78"/>
<circle cx="409.6" cy="313.2" r="1.7" fill="#2d92cf"/>
<circle cx="411.5" cy="315.5" r="1.7" fill="#2d92cf"/>
<circle cx="415" cy="315" r="1.7" fill="#2d92cf"/>
<circle cx="418.5" cy="315.3" r="1.7" fill="#2d92cf"/>
<circle cx="410" cy="318.5" r="1.7" fill="#2d92cf"/>
<circle cx="413.5" cy="318" r="1.7" fill="#2d92cf"/>
<circle cx="417.5" cy="318.2" r="1.7" fill="#2d92cf"/>
<circle cx="420" cy="318.8" r="1.7" fill="#2d92cf"/>
<circle cx="411.5" cy="321.5" r="1.7" fill="#2d92cf"/>
<circle cx="415.5" cy="321" r="1.7" fill="#2d92cf"/>
<circle cx="418" cy="320.5" r="1.7" fill="#2d92cf"/>
<circle cx="430.1" cy="294.6" r="1.7" fill="#c0141e"/>
<circle cx="434.7" cy="294.6" r="1.7" fill="#c0141e"/>
<circle cx="432.8" cy="296.5" r="1.7" fill="#c0141e"/>
<circle cx="430.1" cy="299.6" r="1.7" fill="#c0141e"/>
<circle cx="435.1" cy="299.6" r="1.7" fill="#c0141e"/>
<circle cx="429" cy="309.5" r="1.7" fill="#c0141e"/>
<circle cx="433" cy="309" r="1.7" fill="#c0141e"/>
<circle cx="436.5" cy="310" r="1.7" fill="#c0141e"/>
<circle cx="428.5" cy="312.5" r="1.7" fill="#c0141e"/>
<circle cx="431.5" cy="312.5" r="1.7" fill="#c0141e"/>
<circle cx="435" cy="312.8" r="1.7" fill="#c0141e"/>
<circle cx="430" cy="315.5" r="1.7" fill="#c0141e"/>
<circle cx="433.5" cy="315.5" r="1.7" fill="#c0141e"/>
<circle cx="436.5" cy="315" r="1.7" fill="#c0141e"/>
<circle cx="429" cy="318" r="1.7" fill="#c0141e"/>
<circle cx="432.5" cy="318.5" r="1.7" fill="#c0141e"/>
<circle cx="436" cy="318.2" r="1.7" fill="#c0141e"/>
<circle cx="431" cy="321" r="1.7" fill="#c0141e"/>
<circle cx="434.5" cy="320.8" r="1.7" fill="#c0141e"/>
<circle cx="448.9" cy="285.4" r="1.7" fill="#55206a"/>
<circle cx="452.4" cy="285.4" r="1.7" fill="#55206a"/>
<circle cx="449" cy="291.5" r="1.7" fill="#55206a"/>
<circle cx="452.5" cy="291.5" r="1.7" fill="#55206a"/>
<circle cx="450.7" cy="294.5" r="1.7" fill="#55206a"/>
<circle cx="448.7" cy="297.5" r="1.7" fill="#55206a"/>
<circle cx="452.5" cy="298" r="1.7" fill="#55206a"/>
<circle cx="450.7" cy="301" r="1.7" fill="#55206a"/>
<circle cx="450.7" cy="306" r="1.7" fill="#55206a"/>
<circle cx="450.7" cy="309.6" r="1.7" fill="#55206a"/>
<circle cx="447" cy="313.5" r="1.7" fill="#55206a"/>
<circle cx="450" cy="314" r="1.7" fill="#55206a"/>
<circle cx="453" cy="314" r="1.7" fill="#55206a"/>
<circle cx="455.5" cy="314.5" r="1.7" fill="#55206a"/>
<circle cx="447.5" cy="317" r="1.7" fill="#55206a"/>
<circle cx="451" cy="318" r="1.7" fill="#55206a"/>
<circle cx="454.5" cy="317.5" r="1.7" fill="#55206a"/>
<polyline points="396.5,307.7 396.5,271.4 430.5,271.4 430.5,288.5" fill="none" stroke="#2a2a2a" stroke-width="1.0"/>
<text x="412.9" y="271.3" font-size="9.2" text-anchor="middle" fill="#1e1e1e">*</text>
<polyline points="434.5,288.5 434.5,271.4 450.5,271.4 450.5,277.8" fill="none" stroke="#2a2a2a" stroke-width="1.0"/>
<text x="443" y="266" font-size="8.4" text-anchor="middle" textLength="8.2" lengthAdjust="spacingAndGlyphs" fill="#1e1e1e">ns</text>
<text transform="translate(396.5,383.8) rotate(-45)" font-size="9.6" text-anchor="end" fill="#1e1e1e" textLength="29.5" lengthAdjust="spacingAndGlyphs">Control</text>
<text transform="translate(414.7,383.8) rotate(-45)" font-size="9.6" text-anchor="end" fill="#1e1e1e" textLength="31" lengthAdjust="spacingAndGlyphs"><tspan font-style="italic">Erfe</tspan>-KO</text>
<text transform="translate(432.9,383.8) rotate(-45)" font-size="9.6" text-anchor="end" fill="#1e1e1e" textLength="11.2" lengthAdjust="spacingAndGlyphs">PV</text>
<text transform="translate(451.2,383.8) rotate(-45)" font-size="9.6" text-anchor="end" fill="#1e1e1e" textLength="53" lengthAdjust="spacingAndGlyphs">PV × <tspan font-style="italic">Erfe</tspan>-KO</text>
<line x1="73.5" y1="586.5" x2="73.5" y2="465" stroke="#1e1e1e" stroke-width="1.0"/>
<line x1="70.5" y1="586.5" x2="152.3" y2="586.5" stroke="#1e1e1e" stroke-width="1.0"/>
<line x1="70.5" y1="586.5" x2="73.5" y2="586.5" stroke="#1e1e1e" stroke-width="1.0"/>
<text x="66.4" y="589.4" font-size="8.3" text-anchor="end" fill="#1e1e1e">0</text>
<line x1="70.5" y1="556.5" x2="73.5" y2="556.5" stroke="#1e1e1e" stroke-width="1.0"/>
<text x="66.4" y="559.4" font-size="8.3" text-anchor="end" fill="#1e1e1e">20</text>
<line x1="70.5" y1="527.5" x2="73.5" y2="527.5" stroke="#1e1e1e" stroke-width="1.0"/>
<text x="66.4" y="530.4" font-size="8.3" text-anchor="end" fill="#1e1e1e">40</text>
<line x1="70.5" y1="497.5" x2="73.5" y2="497.5" stroke="#1e1e1e" stroke-width="1.0"/>
<text x="66.4" y="500.4" font-size="8.3" text-anchor="end" fill="#1e1e1e">60</text>
<line x1="70.5" y1="468.5" x2="73.5" y2="468.5" stroke="#1e1e1e" stroke-width="1.0"/>
<text x="66.4" y="471.4" font-size="8.3" text-anchor="end" fill="#1e1e1e">80</text>
<line x1="85.5" y1="586.5" x2="85.5" y2="589.5" stroke="#1e1e1e" stroke-width="1.0"/>
<line x1="103.5" y1="586.5" x2="103.5" y2="589.5" stroke="#1e1e1e" stroke-width="1.0"/>
<line x1="121.5" y1="586.5" x2="121.5" y2="589.5" stroke="#1e1e1e" stroke-width="1.0"/>
<line x1="140.5" y1="586.5" x2="140.5" y2="589.5" stroke="#1e1e1e" stroke-width="1.0"/>
<text transform="translate(51,525.5) rotate(-90)" font-size="9.2" text-anchor="middle" fill="#1e1e1e" textLength="28.5" lengthAdjust="spacingAndGlyphs">HCT (%)</text>
<rect x="80.05" y="514.5" width="10.6" height="72" fill="#6f81b1" stroke="#56689c" stroke-width="0.7"/>
<rect x="98.3" y="515.5" width="10.6" height="71" fill="#9bcaed" stroke="#7fb3dc" stroke-width="0.7"/>
<rect x="116.55" y="507.5" width="10.6" height="79" fill="#de6f5e" stroke="#c6564a" stroke-width="0.7"/>
<rect x="134.8" y="507" width="10.6" height="79.5" fill="#966aa1" stroke="#7c4f8c" stroke-width="0.7"/>
<line x1="85.5" y1="516.5" x2="85.5" y2="512.5" stroke="#1d3a78" stroke-width="1.0"/>
<line x1="82.3" y1="512.5" x2="88.7" y2="512.5" stroke="#1d3a78" stroke-width="1.0"/>
<line x1="82.3" y1="516.5" x2="88.7" y2="516.5" stroke="#1d3a78" stroke-width="1.0"/>
<line x1="103.5" y1="522.5" x2="103.5" y2="509.5" stroke="#2d92cf" stroke-width="1.0"/>
<line x1="100.3" y1="509.5" x2="106.7" y2="509.5" stroke="#2d92cf" stroke-width="1.0"/>
<line x1="100.3" y1="522.5" x2="106.7" y2="522.5" stroke="#2d92cf" stroke-width="1.0"/>
<line x1="121.5" y1="515.5" x2="121.5" y2="500.5" stroke="#c0141e" stroke-width="1.0"/>
<line x1="118.3" y1="500.5" x2="124.7" y2="500.5" stroke="#c0141e" stroke-width="1.0"/>
<line x1="118.3" y1="515.5" x2="124.7" y2="515.5" stroke="#c0141e" stroke-width="1.0"/>
<line x1="140.5" y1="516.5" x2="140.5" y2="498.5" stroke="#55206a" stroke-width="1.0"/>
<line x1="137.3" y1="498.5" x2="143.7" y2="498.5" stroke="#55206a" stroke-width="1.0"/>
<line x1="137.3" y1="516.5" x2="143.7" y2="516.5" stroke="#55206a" stroke-width="1.0"/>
<circle cx="85.2" cy="511" r="1.7" fill="#1d3a78"/>
<circle cx="82.8" cy="512.5" r="1.7" fill="#1d3a78"/>
<circle cx="87.6" cy="512.5" r="1.7" fill="#1d3a78"/>
<circle cx="80.5" cy="514.8" r="1.7" fill="#1d3a78"/>
<circle cx="84" cy="514.5" r="1.7" fill="#1d3a78"/>
<circle cx="87" cy="514.8" r="1.7" fill="#1d3a78"/>
<circle cx="90.3" cy="514.5" r="1.7" fill="#1d3a78"/>
<circle cx="81" cy="516.5" r="1.7" fill="#1d3a78"/>
<circle cx="85" cy="516.8" r="1.7" fill="#1d3a78"/>
<circle cx="89.5" cy="516.5" r="1.7" fill="#1d3a78"/>
<circle cx="103.3" cy="508.8" r="1.7" fill="#2d92cf"/>
<circle cx="98.7" cy="510.8" r="1.7" fill="#2d92cf"/>
<circle cx="108.3" cy="513.1" r="1.7" fill="#2d92cf"/>
<circle cx="103.3" cy="512.3" r="1.7" fill="#2d92cf"/>
<circle cx="98.7" cy="516.2" r="1.7" fill="#2d92cf"/>
<circle cx="101.4" cy="516.5" r="1.7" fill="#2d92cf"/>
<circle cx="106" cy="516.2" r="1.7" fill="#2d92cf"/>
<circle cx="108.3" cy="518" r="1.7" fill="#2d92cf"/>
<circle cx="103.3" cy="518.8" r="1.7" fill="#2d92cf"/>
<circle cx="103.3" cy="523" r="1.7" fill="#2d92cf"/>
<circle cx="100" cy="520" r="1.7" fill="#2d92cf"/>
<circle cx="106.5" cy="520.5" r="1.7" fill="#2d92cf"/>
<circle cx="121.6" cy="492.3" r="1.7" fill="#c0141e"/>
<circle cx="119" cy="503.5" r="1.7" fill="#c0141e"/>
<circle cx="122.5" cy="503" r="1.7" fill="#c0141e"/>
<circle cx="125.5" cy="504" r="1.7" fill="#c0141e"/>
<circle cx="117.5" cy="506.5" r="1.7" fill="#c0141e"/>
<circle cx="120.5" cy="506.5" r="1.7" fill="#c0141e"/>
<circle cx="124" cy="506.8" r="1.7" fill="#c0141e"/>
<circle cx="127" cy="507" r="1.7" fill="#c0141e"/>
<circle cx="118" cy="509.5" r="1.7" fill="#c0141e"/>
<circle cx="121.5" cy="509.5" r="1.7" fill="#c0141e"/>
<circle cx="125" cy="510" r="1.7" fill="#c0141e"/>
<circle cx="117.5" cy="512.5" r="1.7" fill="#c0141e"/>
<circle cx="120.5" cy="512.8" r="1.7" fill="#c0141e"/>
<circle cx="124" cy="512.5" r="1.7" fill="#c0141e"/>
<circle cx="127" cy="512.8" r="1.7" fill="#c0141e"/>
<circle cx="119" cy="515.5" r="1.7" fill="#c0141e"/>
<circle cx="122.5" cy="516" r="1.7" fill="#c0141e"/>
<circle cx="126" cy="515.5" r="1.7" fill="#c0141e"/>
<circle cx="138.2" cy="495" r="1.7" fill="#55206a"/>
<circle cx="141" cy="495" r="1.7" fill="#55206a"/>
<circle cx="136" cy="500.5" r="1.7" fill="#55206a"/>
<circle cx="139.5" cy="500.5" r="1.7" fill="#55206a"/>
<circle cx="143" cy="500" r="1.7" fill="#55206a"/>
<circle cx="145.3" cy="501" r="1.7" fill="#55206a"/>
<circle cx="138" cy="503.5" r="1.7" fill="#55206a"/>
<circle cx="142" cy="503.5" r="1.7" fill="#55206a"/>
<circle cx="140" cy="506" r="1.7" fill="#55206a"/>
<circle cx="137" cy="508" r="1.7" fill="#55206a"/>
<circle cx="143.5" cy="508" r="1.7" fill="#55206a"/>
<circle cx="136.5" cy="511" r="1.7" fill="#55206a"/>
<circle cx="140" cy="510.5" r="1.7" fill="#55206a"/>
<circle cx="143.5" cy="511.5" r="1.7" fill="#55206a"/>
<circle cx="138.5" cy="513" r="1.7" fill="#55206a"/>
<circle cx="140.1" cy="519.2" r="1.7" fill="#55206a"/>
<polyline points="85.5,505.6 85.5,478 119.5,478 119.5,485.7" fill="none" stroke="#2a2a2a" stroke-width="1.0"/>
<text x="102" y="477.9" font-size="9.2" text-anchor="middle" fill="#1e1e1e">*</text>
<polyline points="124.5,485.7 124.5,478 140.5,478 140.5,489.2" fill="none" stroke="#2a2a2a" stroke-width="1.0"/>
<text x="132.5" y="475.9" font-size="8.4" text-anchor="middle" textLength="8.2" lengthAdjust="spacingAndGlyphs" fill="#1e1e1e">ns</text>
<text transform="translate(85.55,595.8) rotate(-45)" font-size="9.6" text-anchor="end" fill="#1e1e1e" textLength="29.5" lengthAdjust="spacingAndGlyphs">Control</text>
<text transform="translate(103.8,595.8) rotate(-45)" font-size="9.6" text-anchor="end" fill="#1e1e1e" textLength="31" lengthAdjust="spacingAndGlyphs"><tspan font-style="italic">Erfe</tspan>-KO</text>
<text transform="translate(122.05,595.8) rotate(-45)" font-size="9.6" text-anchor="end" fill="#1e1e1e" textLength="11.2" lengthAdjust="spacingAndGlyphs">PV</text>
<text transform="translate(140.3,595.8) rotate(-45)" font-size="9.6" text-anchor="end" fill="#1e1e1e" textLength="53" lengthAdjust="spacingAndGlyphs">PV × <tspan font-style="italic">Erfe</tspan>-KO</text>
<line x1="235.5" y1="586.5" x2="235.5" y2="464.6" stroke="#1e1e1e" stroke-width="1.0"/>
<line x1="232.5" y1="586.5" x2="314" y2="586.5" stroke="#1e1e1e" stroke-width="1.0"/>
<line x1="232.5" y1="586.5" x2="235.5" y2="586.5" stroke="#1e1e1e" stroke-width="1.0"/>
<text x="228.4" y="589.4" font-size="8.3" text-anchor="end" fill="#1e1e1e">0</text>
<line x1="232.5" y1="556.5" x2="235.5" y2="556.5" stroke="#1e1e1e" stroke-width="1.0"/>
<text x="228.4" y="559.4" font-size="8.3" text-anchor="end" fill="#1e1e1e">5</text>
<line x1="232.5" y1="527.5" x2="235.5" y2="527.5" stroke="#1e1e1e" stroke-width="1.0"/>
<text x="228.4" y="530.4" font-size="8.3" text-anchor="end" fill="#1e1e1e">10</text>
<line x1="232.5" y1="497.5" x2="235.5" y2="497.5" stroke="#1e1e1e" stroke-width="1.0"/>
<text x="228.4" y="500.4" font-size="8.3" text-anchor="end" fill="#1e1e1e">15</text>
<line x1="232.5" y1="467.5" x2="235.5" y2="467.5" stroke="#1e1e1e" stroke-width="1.0"/>
<text x="228.4" y="470.4" font-size="8.3" text-anchor="end" fill="#1e1e1e">20</text>
<line x1="247.5" y1="586.5" x2="247.5" y2="589.5" stroke="#1e1e1e" stroke-width="1.0"/>
<line x1="265.5" y1="586.5" x2="265.5" y2="589.5" stroke="#1e1e1e" stroke-width="1.0"/>
<line x1="283.5" y1="586.5" x2="283.5" y2="589.5" stroke="#1e1e1e" stroke-width="1.0"/>
<line x1="302.5" y1="586.5" x2="302.5" y2="589.5" stroke="#1e1e1e" stroke-width="1.0"/>
<text transform="translate(213.2,525.6) rotate(-90)" font-size="9.2" text-anchor="middle" fill="#1e1e1e" textLength="40.22" lengthAdjust="spacingAndGlyphs">HGB (g/dL)</text>
<rect x="242.15" y="503.5" width="10.6" height="83" fill="#6f81b1" stroke="#56689c" stroke-width="0.7"/>
<rect x="260.4" y="506" width="10.6" height="80.5" fill="#9bcaed" stroke="#7fb3dc" stroke-width="0.7"/>
<rect x="278.65" y="492" width="10.6" height="94.5" fill="#de6f5e" stroke="#c6564a" stroke-width="0.7"/>
<rect x="296.9" y="493" width="10.6" height="93.5" fill="#966aa1" stroke="#7c4f8c" stroke-width="0.7"/>
<line x1="247.5" y1="507.5" x2="247.5" y2="500.5" stroke="#1d3a78" stroke-width="1.0"/>
<line x1="244.3" y1="500.5" x2="250.7" y2="500.5" stroke="#1d3a78" stroke-width="1.0"/>
<line x1="244.3" y1="507.5" x2="250.7" y2="507.5" stroke="#1d3a78" stroke-width="1.0"/>
<line x1="265.5" y1="509.5" x2="265.5" y2="495.5" stroke="#2d92cf" stroke-width="1.0"/>
<line x1="262.3" y1="495.5" x2="268.7" y2="495.5" stroke="#2d92cf" stroke-width="1.0"/>
<line x1="262.3" y1="509.5" x2="268.7" y2="509.5" stroke="#2d92cf" stroke-width="1.0"/>
<line x1="283.5" y1="500.5" x2="283.5" y2="488.5" stroke="#c0141e" stroke-width="1.0"/>
<line x1="280.3" y1="488.5" x2="286.7" y2="488.5" stroke="#c0141e" stroke-width="1.0"/>
<line x1="280.3" y1="500.5" x2="286.7" y2="500.5" stroke="#c0141e" stroke-width="1.0"/>
<line x1="302.5" y1="502.5" x2="302.5" y2="488.5" stroke="#55206a" stroke-width="1.0"/>
<line x1="299.3" y1="488.5" x2="305.7" y2="488.5" stroke="#55206a" stroke-width="1.0"/>
<line x1="299.3" y1="502.5" x2="305.7" y2="502.5" stroke="#55206a" stroke-width="1.0"/>
<circle cx="247.6" cy="500.4" r="1.7" fill="#1d3a78"/>
<circle cx="245.2" cy="502" r="1.7" fill="#1d3a78"/>
<circle cx="250" cy="502" r="1.7" fill="#1d3a78"/>
<circle cx="243" cy="504.5" r="1.7" fill="#1d3a78"/>
<circle cx="246.5" cy="504" r="1.7" fill="#1d3a78"/>
<circle cx="249" cy="504.3" r="1.7" fill="#1d3a78"/>
<circle cx="252.2" cy="504.8" r="1.7" fill="#1d3a78"/>
<circle cx="244.5" cy="506.5" r="1.7" fill="#1d3a78"/>
<circle cx="248" cy="507" r="1.7" fill="#1d3a78"/>
<circle cx="251" cy="506.5" r="1.7" fill="#1d3a78"/>
<circle cx="247.6" cy="509" r="1.7" fill="#1d3a78"/>
<circle cx="265.7" cy="495" r="1.7" fill="#2d92cf"/>
<circle cx="265.7" cy="499" r="1.7" fill="#2d92cf"/>
<circle cx="262.5" cy="500" r="1.7" fill="#2d92cf"/>
<circle cx="268.8" cy="500" r="1.7" fill="#2d92cf"/>
<circle cx="265.7" cy="502.7" r="1.7" fill="#2d92cf"/>
<circle cx="270.3" cy="503" r="1.7" fill="#2d92cf"/>
<circle cx="261" cy="505" r="1.7" fill="#2d92cf"/>
<circle cx="264" cy="505.5" r="1.7" fill="#2d92cf"/>
<circle cx="267.5" cy="505.5" r="1.7" fill="#2d92cf"/>
<circle cx="265.7" cy="507" r="1.7" fill="#2d92cf"/>
<circle cx="265.7" cy="515.8" r="1.7" fill="#2d92cf"/>
<circle cx="283.9" cy="479.8" r="1.7" fill="#c0141e"/>
<circle cx="280.5" cy="490.8" r="1.7" fill="#c0141e"/>
<circle cx="284" cy="490.4" r="1.7" fill="#c0141e"/>
<circle cx="287.5" cy="490.8" r="1.7" fill="#c0141e"/>
<circle cx="279.8" cy="493.5" r="1.7" fill="#c0141e"/>
<circle cx="283" cy="493.5" r="1.7" fill="#c0141e"/>
<circle cx="286.5" cy="493.2" r="1.7" fill="#c0141e"/>
<circle cx="288.8" cy="494" r="1.7" fill="#c0141e"/>
<circle cx="281" cy="496.5" r="1.7" fill="#c0141e"/>
<circle cx="284.5" cy="496.8" r="1.7" fill="#c0141e"/>
<circle cx="288" cy="496.5" r="1.7" fill="#c0141e"/>
<circle cx="280" cy="499.5" r="1.7" fill="#c0141e"/>
<circle cx="283.5" cy="499.5" r="1.7" fill="#c0141e"/>
<circle cx="287" cy="499.8" r="1.7" fill="#c0141e"/>
<circle cx="281.5" cy="502.5" r="1.7" fill="#c0141e"/>
<circle cx="285" cy="502.5" r="1.7" fill="#c0141e"/>
<circle cx="288" cy="502.2" r="1.7" fill="#c0141e"/>
<circle cx="283" cy="505" r="1.7" fill="#c0141e"/>
<circle cx="303.5" cy="483.1" r="1.7" fill="#55206a"/>
<circle cx="300.5" cy="485" r="1.7" fill="#55206a"/>
<circle cx="299.5" cy="489.5" r="1.7" fill="#55206a"/>
<circle cx="303" cy="489.2" r="1.7" fill="#55206a"/>
<circle cx="306" cy="490" r="1.7" fill="#55206a"/>
<circle cx="297.8" cy="492.5" r="1.7" fill="#55206a"/>
<circle cx="301" cy="492.8" r="1.7" fill="#55206a"/>
<circle cx="304.5" cy="492.5" r="1.7" fill="#55206a"/>
<circle cx="306.8" cy="493.5" r="1.7" fill="#55206a"/>
<circle cx="299" cy="495.5" r="1.7" fill="#55206a"/>
<circle cx="302.5" cy="496" r="1.7" fill="#55206a"/>
<circle cx="305.5" cy="495.8" r="1.7" fill="#55206a"/>
<circle cx="298.5" cy="498.5" r="1.7" fill="#55206a"/>
<circle cx="302" cy="499" r="1.7" fill="#55206a"/>
<circle cx="305.5" cy="498.8" r="1.7" fill="#55206a"/>
<circle cx="300" cy="502" r="1.7" fill="#55206a"/>
<circle cx="303.5" cy="502.3" r="1.7" fill="#55206a"/>
<circle cx="301" cy="505" r="1.7" fill="#55206a"/>
<circle cx="304.5" cy="505.5" r="1.7" fill="#55206a"/>
<polyline points="247.5,495 247.5,465.5 281.5,465.5 281.5,473.7" fill="none" stroke="#2a2a2a" stroke-width="1.0"/>
<text x="264.5" y="465.4" font-size="9.2" text-anchor="middle" fill="#1e1e1e">**</text>
<polyline points="286.5,473.7 286.5,465.5 302.5,465.5 302.5,476.5" fill="none" stroke="#2a2a2a" stroke-width="1.0"/>
<text x="294" y="463.4" font-size="8.4" text-anchor="middle" textLength="8.2" lengthAdjust="spacingAndGlyphs" fill="#1e1e1e">ns</text>
<text transform="translate(247.65,595.8) rotate(-45)" font-size="9.6" text-anchor="end" fill="#1e1e1e" textLength="29.5" lengthAdjust="spacingAndGlyphs">Control</text>
<text transform="translate(265.9,595.8) rotate(-45)" font-size="9.6" text-anchor="end" fill="#1e1e1e" textLength="31" lengthAdjust="spacingAndGlyphs"><tspan font-style="italic">Erfe</tspan>-KO</text>
<text transform="translate(284.15,595.8) rotate(-45)" font-size="9.6" text-anchor="end" fill="#1e1e1e" textLength="11.2" lengthAdjust="spacingAndGlyphs">PV</text>
<text transform="translate(302.4,595.8) rotate(-45)" font-size="9.6" text-anchor="end" fill="#1e1e1e" textLength="53" lengthAdjust="spacingAndGlyphs">PV × <tspan font-style="italic">Erfe</tspan>-KO</text>
<line x1="384.5" y1="586.5" x2="384.5" y2="465" stroke="#1e1e1e" stroke-width="1.0"/>
<line x1="381.5" y1="586.5" x2="463" y2="586.5" stroke="#1e1e1e" stroke-width="1.0"/>
<line x1="381.5" y1="586.5" x2="384.5" y2="586.5" stroke="#1e1e1e" stroke-width="1.0"/>
<text x="377.7" y="589.4" font-size="8.3" text-anchor="end" fill="#1e1e1e">0</text>
<line x1="381.5" y1="566.5" x2="384.5" y2="566.5" stroke="#1e1e1e" stroke-width="1.0"/>
<text x="377.7" y="569.4" font-size="8.3" text-anchor="end" fill="#1e1e1e">20</text>
<line x1="381.5" y1="547.5" x2="384.5" y2="547.5" stroke="#1e1e1e" stroke-width="1.0"/>
<text x="377.7" y="550.4" font-size="8.3" text-anchor="end" fill="#1e1e1e">40</text>
<line x1="381.5" y1="527.5" x2="384.5" y2="527.5" stroke="#1e1e1e" stroke-width="1.0"/>
<text x="377.7" y="530.4" font-size="8.3" text-anchor="end" fill="#1e1e1e">60</text>
<line x1="381.5" y1="507.5" x2="384.5" y2="507.5" stroke="#1e1e1e" stroke-width="1.0"/>
<text x="377.7" y="510.4" font-size="8.3" text-anchor="end" fill="#1e1e1e">80</text>
<line x1="381.5" y1="487.5" x2="384.5" y2="487.5" stroke="#1e1e1e" stroke-width="1.0"/>
<text x="377.7" y="490.4" font-size="8.3" text-anchor="end" fill="#1e1e1e">100</text>
<line x1="381.5" y1="468.5" x2="384.5" y2="468.5" stroke="#1e1e1e" stroke-width="1.0"/>
<text x="377.7" y="471.4" font-size="8.3" text-anchor="end" fill="#1e1e1e">120</text>
<line x1="396.5" y1="586.5" x2="396.5" y2="589.5" stroke="#1e1e1e" stroke-width="1.0"/>
<line x1="414.5" y1="586.5" x2="414.5" y2="589.5" stroke="#1e1e1e" stroke-width="1.0"/>
<line x1="432.5" y1="586.5" x2="432.5" y2="589.5" stroke="#1e1e1e" stroke-width="1.0"/>
<line x1="450.5" y1="586.5" x2="450.5" y2="589.5" stroke="#1e1e1e" stroke-width="1.0"/>
<text transform="translate(357,526) rotate(-90)" font-size="8.8" text-anchor="middle" fill="#1e1e1e" textLength="58.24" lengthAdjust="spacingAndGlyphs">% Ter119+ cells</text>
<rect x="390.3" y="581.8" width="11.4" height="4.7" fill="#32abe3"/>
<rect x="390.3" y="572.3" width="11.4" height="9.5" fill="#174d88"/>
<rect x="390.3" y="553.1" width="11.4" height="19.2" fill="#5b2271"/>
<rect x="390.3" y="526.9" width="11.4" height="26.2" fill="#e8137f"/>
<rect x="390.3" y="489.2" width="11.4" height="37.7" fill="#cb0b2a"/>
<line x1="396.5" y1="581.8" x2="396.5" y2="580.5" stroke="#0e2a50" stroke-width="0.9"/>
<line x1="393.9" y1="580.5" x2="399.1" y2="580.5" stroke="#0e2a50" stroke-width="0.9"/>
<line x1="396.5" y1="572.3" x2="396.5" y2="570.5" stroke="#2a0a40" stroke-width="0.9"/>
<line x1="393.9" y1="570.5" x2="399.1" y2="570.5" stroke="#2a0a40" stroke-width="0.9"/>
<line x1="396.5" y1="553.1" x2="396.5" y2="551.5" stroke="#5a0a30" stroke-width="0.9"/>
<line x1="393.9" y1="551.5" x2="399.1" y2="551.5" stroke="#5a0a30" stroke-width="0.9"/>
<line x1="396.5" y1="526.9" x2="396.5" y2="525.5" stroke="#5a0a1a" stroke-width="0.9"/>
<line x1="393.9" y1="525.5" x2="399.1" y2="525.5" stroke="#5a0a1a" stroke-width="0.9"/>
<line x1="396.5" y1="489.2" x2="396.5" y2="483.5" stroke="#4a4a4a" stroke-width="1.0"/>
<line x1="393.8" y1="483.5" x2="399.2" y2="483.5" stroke="#4a4a4a" stroke-width="1.0"/>
<rect x="408.5" y="581.8" width="11.4" height="4.7" fill="#32abe3"/>
<rect x="408.5" y="572.3" width="11.4" height="9.5" fill="#174d88"/>
<rect x="408.5" y="553" width="11.4" height="19.3" fill="#5b2271"/>
<rect x="408.5" y="526.5" width="11.4" height="26.5" fill="#e8137f"/>
<rect x="408.5" y="489.2" width="11.4" height="37.3" fill="#cb0b2a"/>
<line x1="414.5" y1="581.8" x2="414.5" y2="580.5" stroke="#0e2a50" stroke-width="0.9"/>
<line x1="411.9" y1="580.5" x2="417.1" y2="580.5" stroke="#0e2a50" stroke-width="0.9"/>
<line x1="414.5" y1="572.3" x2="414.5" y2="570.5" stroke="#2a0a40" stroke-width="0.9"/>
<line x1="411.9" y1="570.5" x2="417.1" y2="570.5" stroke="#2a0a40" stroke-width="0.9"/>
<line x1="414.5" y1="553" x2="414.5" y2="551.5" stroke="#5a0a30" stroke-width="0.9"/>
<line x1="411.9" y1="551.5" x2="417.1" y2="551.5" stroke="#5a0a30" stroke-width="0.9"/>
<line x1="414.5" y1="526.5" x2="414.5" y2="522.5" stroke="#5a0a1a" stroke-width="0.9"/>
<line x1="411.9" y1="522.5" x2="417.1" y2="522.5" stroke="#5a0a1a" stroke-width="0.9"/>
<line x1="414.5" y1="489.2" x2="414.5" y2="484.5" stroke="#4a4a4a" stroke-width="1.0"/>
<line x1="411.8" y1="484.5" x2="417.2" y2="484.5" stroke="#4a4a4a" stroke-width="1.0"/>
<rect x="427.1" y="582.3" width="11.4" height="4.2" fill="#32abe3"/>
<rect x="427.1" y="578.5" width="11.4" height="3.8" fill="#174d88"/>
<rect x="427.1" y="563.8" width="11.4" height="14.7" fill="#5b2271"/>
<rect x="427.1" y="541.5" width="11.4" height="22.3" fill="#e8137f"/>
<rect x="427.1" y="488.8" width="11.4" height="52.7" fill="#cb0b2a"/>
<line x1="432.5" y1="582.3" x2="432.5" y2="580.5" stroke="#0e2a50" stroke-width="0.9"/>
<line x1="429.9" y1="580.5" x2="435.1" y2="580.5" stroke="#0e2a50" stroke-width="0.9"/>
<line x1="432.5" y1="578.5" x2="432.5" y2="576.5" stroke="#2a0a40" stroke-width="0.9"/>
<line x1="429.9" y1="576.5" x2="435.1" y2="576.5" stroke="#2a0a40" stroke-width="0.9"/>
<line x1="432.5" y1="563.8" x2="432.5" y2="559.5" stroke="#5a0a30" stroke-width="0.9"/>
<line x1="429.9" y1="559.5" x2="435.1" y2="559.5" stroke="#5a0a30" stroke-width="0.9"/>
<line x1="432.5" y1="541.5" x2="432.5" y2="536.5" stroke="#5a0a1a" stroke-width="0.9"/>
<line x1="429.9" y1="536.5" x2="435.1" y2="536.5" stroke="#5a0a1a" stroke-width="0.9"/>
<line x1="432.5" y1="488.8" x2="432.5" y2="478.5" stroke="#4a4a4a" stroke-width="1.0"/>
<line x1="429.8" y1="478.5" x2="435.2" y2="478.5" stroke="#4a4a4a" stroke-width="1.0"/>
<rect x="445.2" y="581.8" width="11.4" height="4.7" fill="#32abe3"/>
<rect x="445.2" y="576.2" width="11.4" height="5.6" fill="#174d88"/>
<rect x="445.2" y="560.3" width="11.4" height="15.9" fill="#5b2271"/>
<rect x="445.2" y="536.2" width="11.4" height="24.1" fill="#e8137f"/>
<rect x="445.2" y="489.2" width="11.4" height="47" fill="#cb0b2a"/>
<line x1="450.5" y1="581.8" x2="450.5" y2="580.5" stroke="#0e2a50" stroke-width="0.9"/>
<line x1="447.9" y1="580.5" x2="453.1" y2="580.5" stroke="#0e2a50" stroke-width="0.9"/>
<line x1="450.5" y1="576.2" x2="450.5" y2="573.5" stroke="#2a0a40" stroke-width="0.9"/>
<line x1="447.9" y1="573.5" x2="453.1" y2="573.5" stroke="#2a0a40" stroke-width="0.9"/>
<line x1="450.5" y1="560.3" x2="450.5" y2="553.5" stroke="#5a0a30" stroke-width="0.9"/>
<line x1="447.9" y1="553.5" x2="453.1" y2="553.5" stroke="#5a0a30" stroke-width="0.9"/>
<line x1="450.5" y1="536.2" x2="450.5" y2="533.5" stroke="#5a0a1a" stroke-width="0.9"/>
<line x1="447.9" y1="533.5" x2="453.1" y2="533.5" stroke="#5a0a1a" stroke-width="0.9"/>
<line x1="450.5" y1="489.2" x2="450.5" y2="478.5" stroke="#4a4a4a" stroke-width="1.0"/>
<line x1="447.8" y1="478.5" x2="453.2" y2="478.5" stroke="#4a4a4a" stroke-width="1.0"/>
<text transform="translate(396.2,595.8) rotate(-45)" font-size="9.6" text-anchor="end" fill="#1e1e1e" textLength="29.5" lengthAdjust="spacingAndGlyphs">Control</text>
<text transform="translate(414.4,595.8) rotate(-45)" font-size="9.6" text-anchor="end" fill="#1e1e1e" textLength="31" lengthAdjust="spacingAndGlyphs"><tspan font-style="italic">Erfe</tspan>-KO</text>
<text transform="translate(433,595.8) rotate(-45)" font-size="9.6" text-anchor="end" fill="#1e1e1e" textLength="11.2" lengthAdjust="spacingAndGlyphs">PV</text>
<text transform="translate(451.1,595.8) rotate(-45)" font-size="9.6" text-anchor="end" fill="#1e1e1e" textLength="53" lengthAdjust="spacingAndGlyphs">PV × <tspan font-style="italic">Erfe</tspan>-KO</text>
<rect x="466.3" y="491.7" width="6.6" height="6.6" fill="#cb0b2a"/>
<text x="476.4" y="498.1" font-size="8.7" textLength="5.4" lengthAdjust="spacingAndGlyphs" fill="#555" style="stroke:#555">V</text>
<rect x="466.3" y="507.2" width="6.6" height="6.6" fill="#e8137f"/>
<text x="476.4" y="513.6" font-size="8.7" textLength="7.8" lengthAdjust="spacingAndGlyphs" fill="#555" style="stroke:#555">IV</text>
<rect x="466.3" y="522.1" width="6.6" height="6.6" fill="#5b2271"/>
<text x="476.4" y="528.5" font-size="8.7" textLength="6.2" lengthAdjust="spacingAndGlyphs" fill="#555" style="stroke:#555">III</text>
<rect x="466.3" y="537.7" width="6.6" height="6.6" fill="#174d88"/>
<text x="476.4" y="544.1" font-size="8.7" textLength="4.4" lengthAdjust="spacingAndGlyphs" fill="#555" style="stroke:#555">II</text>
<rect x="466.3" y="553.2" width="6.6" height="6.6" fill="#32abe3"/>
<text x="476.4" y="559.6" font-size="8.7" textLength="1.5" lengthAdjust="spacingAndGlyphs" fill="#555" style="stroke:#555">I</text>
<text x="488.8" y="497" font-size="8.0" textLength="23" lengthAdjust="spacingAndGlyphs" fill="#1e1e1e">****; ^</text>
<text x="488" y="528.2" font-size="8.5" fill="#1e1e1e">*</text>
</g>
</svg>
</body></html>
